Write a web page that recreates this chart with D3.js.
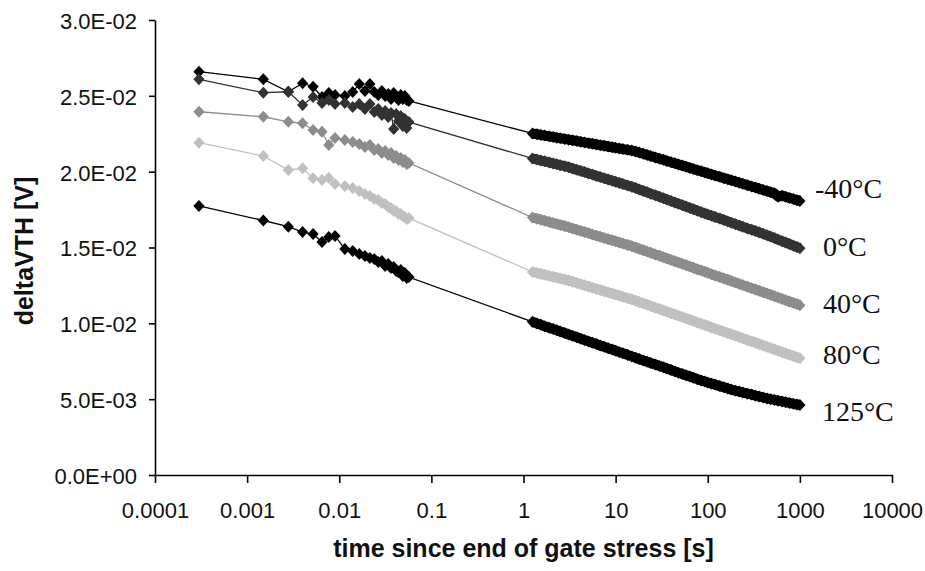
<!DOCTYPE html>
<html><head><meta charset="utf-8">
<script src="https://cdn.jsdelivr.net/npm/d3@7"></script>
<style>body{margin:0;background:#fff}</style>
</head><body>
<svg id="chart" width="925" height="571"></svg>
<script>
const seriesNames = ['-40°C', '0°C', '40°C', '80°C', '125°C'];
const seriesColors = ['#000000', '#333333', '#8c8c8c', '#c0c0c0', '#000000'];

const earlyTimes = [0.0003, 0.0015, 0.0028, 0.004, 0.0052, 0.0065, 0.0077, 0.009, 0.0115, 0.014, 0.0165, 0.019, 0.0215, 0.024, 0.0265, 0.029, 0.0315, 0.034, 0.0365, 0.039, 0.0415, 0.044, 0.0465, 0.049, 0.0515, 0.054, 0.057];
const lateTimes = [1.25, 1.4, 1.55, 1.7, 1.9, 2.1, 2.3, 2.5, 2.8, 3.1, 3.4, 3.8, 4.2, 4.6, 5.1, 5.6, 6.2, 6.8, 7.5, 8.3, 9.2, 10, 11, 12, 13.5, 15, 16.5, 18, 20, 22, 24, 27, 30, 33, 36, 40, 44, 48, 53, 58, 64, 70, 77, 85, 93, 100, 110, 120, 135, 150, 165, 180, 200, 220, 240, 270, 300, 330, 360, 400, 440, 480, 530, 580, 640, 700, 770, 850, 930, 1000];

const m40Early = [0.02659, 0.02609, 0.02527, 0.02583, 0.02560, 0.02492, 0.02519, 0.02505, 0.02499, 0.02525, 0.02578, 0.02532, 0.02578, 0.02525, 0.02505, 0.02532, 0.02499, 0.02512, 0.02479, 0.02519, 0.02492, 0.02473, 0.02505, 0.02479, 0.02499, 0.02473, 0.02466];
const m40Late = [0.02252, 0.02247, 0.02242, 0.02238, 0.02233, 0.02229, 0.02224, 0.02221, 0.02215, 0.02211, 0.02207, 0.02202, 0.02197, 0.02193, 0.02188, 0.02184, 0.02179, 0.02175, 0.02171, 0.02166, 0.02161, 0.02157, 0.02153, 0.02149, 0.02144, 0.02139, 0.02133, 0.02126, 0.02118, 0.02110, 0.02103, 0.02094, 0.02085, 0.02078, 0.02071, 0.02062, 0.02055, 0.02048, 0.02040, 0.02033, 0.02025, 0.02018, 0.02010, 0.02003, 0.01995, 0.01990, 0.01982, 0.01975, 0.01966, 0.01957, 0.01950, 0.01943, 0.01935, 0.01927, 0.01920, 0.01911, 0.01902, 0.01895, 0.01888, 0.01879, 0.01872, 0.01865, 0.01857, 0.01835, 0.01842, 0.01835, 0.01827, 0.01820, 0.01812, 0.01807];

const p0Early = [0.02609, 0.02521, 0.02527, 0.02440, 0.02492, 0.02453, 0.02473, 0.02446, 0.02453, 0.02426, 0.02446, 0.02413, 0.02446, 0.02393, 0.02413, 0.02374, 0.02400, 0.02360, 0.02387, 0.02281, 0.02380, 0.02334, 0.02367, 0.02301, 0.02347, 0.02288, 0.02327];
const p0Late = [0.02087, 0.02080, 0.02073, 0.02068, 0.02061, 0.02054, 0.02049, 0.02043, 0.02036, 0.02029, 0.02021, 0.02012, 0.02004, 0.01997, 0.01988, 0.01981, 0.01972, 0.01965, 0.01957, 0.01949, 0.01940, 0.01933, 0.01926, 0.01919, 0.01909, 0.01900, 0.01892, 0.01883, 0.01873, 0.01864, 0.01855, 0.01844, 0.01834, 0.01825, 0.01816, 0.01806, 0.01797, 0.01789, 0.01779, 0.01770, 0.01761, 0.01752, 0.01743, 0.01733, 0.01725, 0.01718, 0.01710, 0.01701, 0.01691, 0.01681, 0.01672, 0.01664, 0.01654, 0.01645, 0.01637, 0.01626, 0.01617, 0.01608, 0.01600, 0.01590, 0.01581, 0.01572, 0.01562, 0.01552, 0.01542, 0.01533, 0.01523, 0.01512, 0.01503, 0.01495];

const p40Early = [0.02395, 0.02362, 0.02329, 0.02319, 0.02275, 0.02263, 0.02176, 0.02222, 0.02209, 0.02196, 0.02182, 0.02163, 0.02176, 0.02143, 0.02149, 0.02123, 0.02136, 0.02110, 0.02123, 0.02090, 0.02103, 0.02077, 0.02090, 0.02064, 0.02077, 0.02050, 0.02057];
const p40Late = [0.01698, 0.01690, 0.01683, 0.01676, 0.01668, 0.01661, 0.01655, 0.01649, 0.01641, 0.01633, 0.01626, 0.01617, 0.01609, 0.01602, 0.01594, 0.01586, 0.01578, 0.01571, 0.01563, 0.01555, 0.01547, 0.01541, 0.01533, 0.01526, 0.01517, 0.01509, 0.01500, 0.01492, 0.01482, 0.01473, 0.01465, 0.01454, 0.01445, 0.01436, 0.01428, 0.01418, 0.01409, 0.01401, 0.01392, 0.01384, 0.01374, 0.01366, 0.01357, 0.01348, 0.01340, 0.01333, 0.01324, 0.01316, 0.01305, 0.01296, 0.01287, 0.01279, 0.01269, 0.01260, 0.01252, 0.01241, 0.01232, 0.01223, 0.01215, 0.01205, 0.01196, 0.01188, 0.01179, 0.01171, 0.01161, 0.01153, 0.01144, 0.01135, 0.01127, 0.01120];

const p80Early = [0.02191, 0.02103, 0.02011, 0.02022, 0.01956, 0.01945, 0.01958, 0.01919, 0.01905, 0.01892, 0.01873, 0.01853, 0.01840, 0.01820, 0.01813, 0.01793, 0.01787, 0.01767, 0.01760, 0.01741, 0.01741, 0.01721, 0.01721, 0.01708, 0.01701, 0.01688, 0.01694];
const p80Late = [0.01339, 0.01332, 0.01326, 0.01320, 0.01313, 0.01307, 0.01301, 0.01296, 0.01289, 0.01282, 0.01275, 0.01266, 0.01258, 0.01251, 0.01243, 0.01235, 0.01227, 0.01220, 0.01212, 0.01204, 0.01196, 0.01190, 0.01182, 0.01175, 0.01166, 0.01158, 0.01149, 0.01141, 0.01131, 0.01122, 0.01114, 0.01103, 0.01094, 0.01085, 0.01077, 0.01067, 0.01058, 0.01050, 0.01041, 0.01033, 0.01023, 0.01015, 0.01006, 0.00997, 0.00989, 0.00982, 0.00973, 0.00965, 0.00954, 0.00945, 0.00936, 0.00928, 0.00918, 0.00909, 0.00901, 0.00890, 0.00881, 0.00872, 0.00864, 0.00854, 0.00845, 0.00837, 0.00828, 0.00820, 0.00810, 0.00802, 0.00793, 0.00784, 0.00776, 0.00769];

const p125Early = [0.01774, 0.01678, 0.01637, 0.01602, 0.01589, 0.01536, 0.01569, 0.01576, 0.01490, 0.01477, 0.01457, 0.01444, 0.01431, 0.01424, 0.01404, 0.01411, 0.01378, 0.01391, 0.01365, 0.01371, 0.01345, 0.01338, 0.01352, 0.01312, 0.01332, 0.01299, 0.01305];
const p125Late = [0.01010, 0.00999, 0.00990, 0.00981, 0.00971, 0.00962, 0.00954, 0.00946, 0.00936, 0.00926, 0.00918, 0.00908, 0.00898, 0.00890, 0.00881, 0.00872, 0.00863, 0.00854, 0.00845, 0.00836, 0.00827, 0.00819, 0.00810, 0.00802, 0.00792, 0.00782, 0.00773, 0.00765, 0.00755, 0.00747, 0.00739, 0.00728, 0.00718, 0.00710, 0.00702, 0.00692, 0.00683, 0.00675, 0.00666, 0.00658, 0.00649, 0.00641, 0.00632, 0.00623, 0.00616, 0.00610, 0.00602, 0.00596, 0.00586, 0.00578, 0.00570, 0.00563, 0.00556, 0.00550, 0.00544, 0.00536, 0.00530, 0.00523, 0.00518, 0.00511, 0.00505, 0.00500, 0.00495, 0.00490, 0.00485, 0.00480, 0.00475, 0.00469, 0.00465, 0.00461];

const xTickValues = [0.0001, 0.001, 0.01, 0.1, 1, 10, 100, 1000, 10000];
const xTickLabels = ['0.0001', '0.001', '0.01', '0.1', '1', '10', '100', '1000', '10000'];
const yTickValues = [0, 0.005, 0.01, 0.015, 0.02, 0.025, 0.03];
const xTitle = 'time since end of gate stress [s]';
const yTitle = 'deltaVTH [V]';

// ---- build ----
const times = earlyTimes.concat(lateTimes);
const seriesValues = [
  m40Early.concat(m40Late),
  p0Early.concat(p0Late),
  p40Early.concat(p40Late),
  p80Early.concat(p80Late),
  p125Early.concat(p125Late)
];
const series = seriesNames.map((name, i) => ({
  name, color: seriesColors[i],
  points: times.map((t, j) => ({t, v: seriesValues[i][j]})),
  dense: lateTimes.map((t, j) => ({t, v: seriesValues[i][earlyTimes.length + j]}))
}));

const svg = d3.select('#chart');
const x = d3.scaleLog().domain([1e-4, 1e4]).range([155, 892]);
const y = d3.scaleLinear().domain([0, 0.03]).range([475, 20]);

function fmtE(v) {
  const [m, e] = v.toExponential(1).split('e');
  const n = Math.abs(parseInt(e, 10));
  return m + 'E' + (e[0] === '-' ? '-' : '+') + String(n).padStart(2, '0');
}

const tickFont = '"Liberation Sans", Arial, sans-serif';

const defs = svg.append('defs');
defs.append('filter').attr('id', 'soft').attr('x', '-5%').attr('y', '-5%').attr('width', '110%').attr('height', '110%')
  .append('feGaussianBlur').attr('stdDeviation', 0.45);

// series
const line = d3.line().x(d => x(d.t)).y(d => y(d.v));
const hw = 5.6, hh = 6.0;
const diamond = `M0,${-hh}L${hw},0L0,${hh}L${-hw},0Z`;

const gS = svg.append('g').attr('filter', 'url(#soft)');
series.forEach(s => {
  const g = gS.append('g');
  g.append('path').attr('d', line(s.points)).attr('fill', 'none')
    .attr('stroke', s.color).attr('stroke-width', 1.3);
  // overlapping markers of the densely sampled part merge into a solid band
  g.append('path').attr('d', line(s.dense)).attr('fill', 'none')
    .attr('stroke', s.color).attr('stroke-width', 10).attr('stroke-linejoin', 'round');
  g.selectAll('path.m').data(s.points).join('path').attr('class', 'm')
    .attr('d', diamond)
    .attr('transform', d => `translate(${x(d.t)},${y(d.v)})`)
    .attr('fill', s.color);
});

// axes
const yAxis = d3.axisLeft(y).tickValues(yTickValues).tickSize(6).tickSizeOuter(0)
  .tickPadding(12).tickFormat(fmtE);
const gy = svg.append('g').attr('transform', 'translate(155,0)').call(yAxis);
gy.selectAll('text').attr('dy', '0.38em');

const xAxis = d3.axisBottom(x).tickValues(xTickValues).tickSize(8).tickSizeOuter(0)
  .tickPadding(19).tickFormat((d, i) => xTickLabels[i]);
const gx = svg.append('g').attr('transform', 'translate(0,475)').call(xAxis);

[gx, gy].forEach(g => {
  g.select('.domain').attr('stroke', '#000').attr('stroke-width', 1.6);
  g.selectAll('.tick line').attr('stroke', '#000').attr('stroke-width', 1.6);
  g.selectAll('text').attr('font-family', tickFont).attr('font-size', 22).attr('fill', '#111');
});

// titles
svg.append('text').attr('x', 523.5).attr('y', 557).attr('text-anchor', 'middle')
  .attr('font-family', tickFont).attr('font-weight', 'bold').attr('font-size', 25)
  .attr('fill', '#111').text(xTitle);
svg.append('text').attr('transform', 'translate(33,251) rotate(-90)').attr('text-anchor', 'middle')
  .attr('font-family', tickFont).attr('font-weight', 'bold').attr('font-size', 25)
  .attr('fill', '#111').text(yTitle);

// series labels at line ends
const labelDx = [15, 23, 23, 23, 22];
const labelDy = [-3, 8, 8, 6, 16];
series.forEach((s, i) => {
  const last = s.points[s.points.length - 1];
  svg.append('text').attr('x', x(last.t) + labelDx[i]).attr('y', y(last.v) + labelDy[i])
    .attr('font-family', '"Liberation Serif", "Times New Roman", serif').attr('font-size', 28)
    .attr('fill', '#111').text(s.name);
});
</script>
</body></html>
